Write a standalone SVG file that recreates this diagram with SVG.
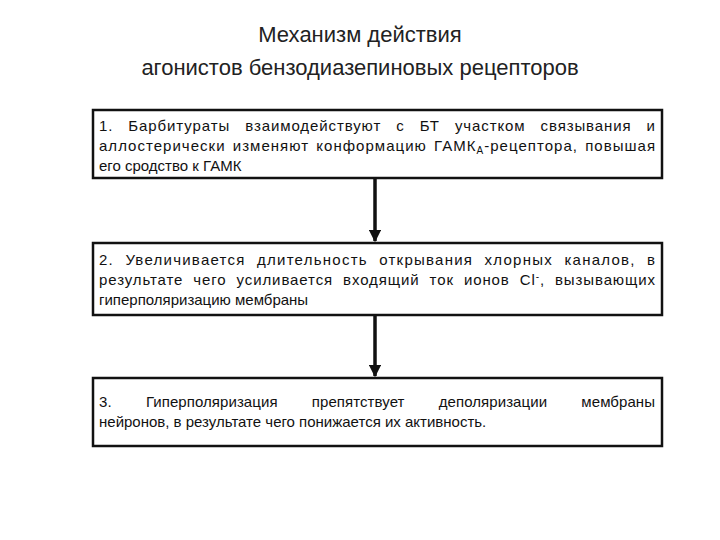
<svg xmlns="http://www.w3.org/2000/svg" width="720" height="540" viewBox="0 0 720 540">
<style>
.t{font-family:"Liberation Sans",Arial,sans-serif;font-size:22px;fill:#222;text-anchor:middle}
.b{font-family:"Liberation Sans",Arial,sans-serif;font-size:15px;fill:#111}
.box{fill:#fff;stroke:#111;stroke-width:2.5}
.c{stroke:#111;stroke-width:3.5;fill:none}
</style>
<defs><marker id="ah" viewBox="0 0 10 10" refX="9" refY="5" markerWidth="3.5" markerHeight="3.5" orient="auto"><path d="M0,0L10,5L0,10z" fill="#111"/></marker></defs>
<rect width="720" height="540" fill="#fff"/>
<g id="title"><text class="t" x="360" y="42">Механизм действия</text><text class="t" x="360" y="75">агонистов бензодиазепиновых рецепторов</text></g>
<g id="connectors">
<line class="c" x1="375" y1="179" x2="375" y2="241" marker-end="url(#ah)"/>
<line class="c" x1="375" y1="316" x2="375" y2="376" marker-end="url(#ah)"/>
</g>
<g id="n1"><rect class="box" x="93" y="110" width="569" height="68"/>
<text class="b" x="99" y="131" textLength="556" lengthAdjust="spacing" word-spacing="10">1. Барбитураты взаимодействуют с БТ участком связывания и</text>
<text class="b" x="99" y="151" textLength="556" lengthAdjust="spacing" word-spacing="2">аллостерически изменяют конформацию ГАМК<tspan font-size="10" dy="3">A</tspan><tspan dy="-3">-рецептора, повышая</tspan></text>
<text class="b" x="99" y="171">его сродство к ГАМК</text></g>
<g id="n2"><rect class="box" x="93" y="243" width="569" height="72"/>
<text class="b" x="99" y="265" textLength="556" lengthAdjust="spacing" word-spacing="6">2. Увеличивается длительность открывания хлорных каналов, в</text>
<text class="b" x="99" y="285" textLength="556" lengthAdjust="spacing" word-spacing="5">результате чего усиливается входящий ток ионов Cl<tspan font-size="10" dy="-5">-</tspan><tspan dy="5">, вызывающих</tspan></text>
<text class="b" x="99" y="305">гиперполяризацию мембраны</text></g>
<g id="n3"><rect class="box" x="93" y="378" width="569" height="68"/>
<text class="b" x="99" y="407" textLength="556" lengthAdjust="spacing" word-spacing="30">3. Гиперполяризация препятствует деполяризации мембраны</text>
<text class="b" x="99" y="427">нейронов, в результате чего понижается их активность.</text></g>
</svg>
